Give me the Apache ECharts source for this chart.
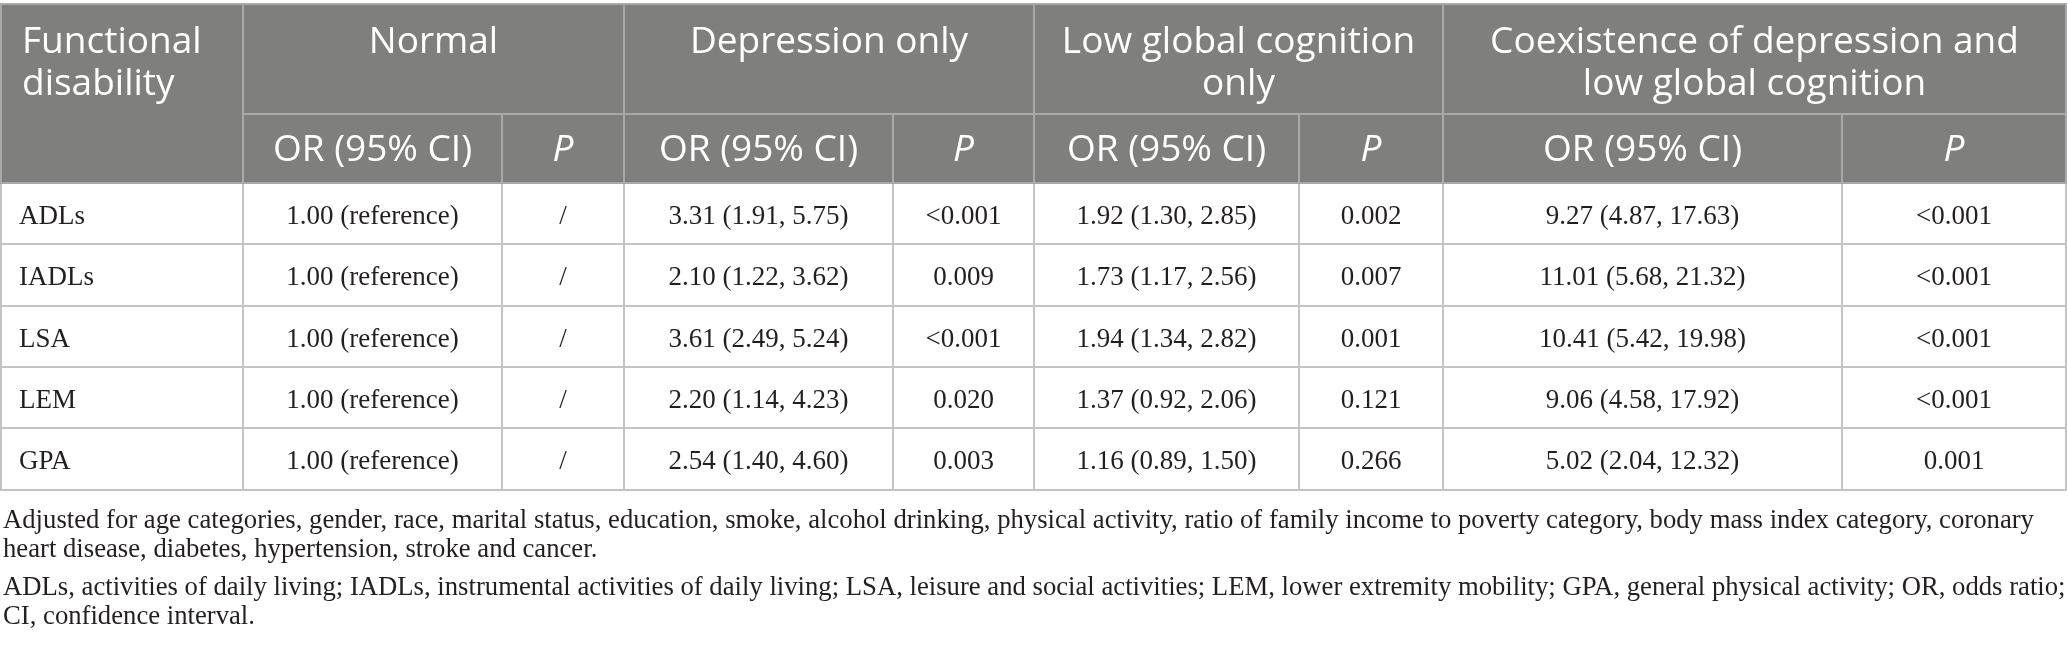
<!DOCTYPE html>
<html>
<head>
    <meta charset="utf-8" />
    <title>Functional disability by depression and cognition</title>
    <style>html, body { margin: 0; padding: 0; background: #fff; }</style>
</head>
<body>
    <div id="main" style="width:2068px;height:654px;"></div>
    <script src="https://cdn.jsdelivr.net/npm/echarts@6/dist/echarts.min.js"></script>
    <script type="text/javascript">
        // table content
        var firstHeader = 'Functional\ndisability';
        var groups = ['Normal', 'Depression only', 'Low global cognition\nonly', 'Coexistence of depression and\nlow global cognition'];
        var subHeaders = ['OR (95% CI)', 'P'];
        var rowLabels = ['ADLs', 'IADLs', 'LSA', 'LEM', 'GPA'];
        var normalOR = ['1.00 (reference)', '1.00 (reference)', '1.00 (reference)', '1.00 (reference)', '1.00 (reference)'];
        var normalP = ['/', '/', '/', '/', '/'];
        var depOR = ['3.31 (1.91, 5.75)', '2.10 (1.22, 3.62)', '3.61 (2.49, 5.24)', '2.20 (1.14, 4.23)', '2.54 (1.40, 4.60)'];
        var depP = ['<0.001', '0.009', '<0.001', '0.020', '0.003'];
        var lowOR = ['1.92 (1.30, 2.85)', '1.73 (1.17, 2.56)', '1.94 (1.34, 2.82)', '1.37 (0.92, 2.06)', '1.16 (0.89, 1.50)'];
        var lowP = ['0.002', '0.007', '0.001', '0.121', '0.266'];
        var bothOR = ['9.27 (4.87, 17.63)', '11.01 (5.68, 21.32)', '10.41 (5.42, 19.98)', '9.06 (4.58, 17.92)', '5.02 (2.04, 12.32)'];
        var bothP = ['<0.001', '<0.001', '<0.001', '<0.001', '0.001'];
        var footnoteAdjusted = [
            'Adjusted for age categories, gender, race, marital status, education, smoke, alcohol drinking, physical activity, ratio of family income to poverty category, body mass index category, coronary',
            'heart disease, diabetes, hypertension, stroke and cancer.'
        ];
        var footnoteAbbr = [
            'ADLs, activities of daily living; IADLs, instrumental activities of daily living; LSA, leisure and social activities; LEM, lower extremity mobility; GPA, general physical activity; OR, odds ratio;',
            'CI, confidence interval.'
        ];

        // layout (pixel units of the hidden axes)
        var colEdges = [1, 243, 502, 624, 893, 1034, 1299, 1443, 1842, 2066];
        var rowEdges = [4, 114, 183, 244, 306, 367, 428, 490];

        var headFont = '37px "Open Sans"';
        var bodyFont = '27px "Liberation Serif"';
        var noteFont = '26.7px "Liberation Serif"';

        // build the cell list
        var cells = [];
        cells.push({ c0: 0, c1: 1, r0: 0, r1: 2, text: firstHeader, kind: 'head1', align: 'left' });
        groups.forEach(function (g, i) {
            cells.push({ c0: 1 + i * 2, c1: 3 + i * 2, r0: 0, r1: 1, text: g, kind: 'head1', align: 'center' });
            cells.push({ c0: 1 + i * 2, c1: 2 + i * 2, r0: 1, r1: 2, text: subHeaders[0], kind: 'head2', align: 'center' });
            cells.push({ c0: 2 + i * 2, c1: 3 + i * 2, r0: 1, r1: 2, text: subHeaders[1], kind: 'head2', align: 'center', italic: true });
        });
        var bodyCols = [rowLabels, normalOR, normalP, depOR, depP, lowOR, lowP, bothOR, bothP];
        rowLabels.forEach(function (lab, r) {
            bodyCols.forEach(function (col, c) {
                cells.push({ c0: c, c1: c + 1, r0: r + 2, r1: r + 3, text: col[r], kind: 'body', align: c === 0 ? 'left' : 'center' });
            });
        });

        var chart = echarts.init(document.getElementById('main'));

        var option = {
            animation: false,
            grid: { left: 0, right: 0, top: 0, bottom: 0 },
            xAxis: { type: 'value', min: 0, max: 2068, show: false },
            yAxis: { type: 'value', min: 0, max: 654, inverse: true, show: false },
            graphic: [{
                type: 'text',
                left: 3,
                top: 506,
                style: { text: footnoteAdjusted.join('\n'), font: noteFont, lineHeight: 29, fill: '#231f20' }
            }, {
                type: 'text',
                left: 3,
                top: 573,
                style: { text: footnoteAbbr.join('\n'), font: noteFont, lineHeight: 29, fill: '#231f20' }
            }],
            series: [{
                type: 'custom',
                coordinateSystem: 'cartesian2d',
                data: cells.map(function (c) {
                    return [colEdges[c.c0], colEdges[c.c1], rowEdges[c.r0], rowEdges[c.r1]];
                }),
                renderItem: function (params, api) {
                    var cell = cells[params.dataIndex];
                    var p0 = api.coord([api.value(0), api.value(2)]);
                    var p1 = api.coord([api.value(1), api.value(3)]);
                    var isHead = cell.kind !== 'body';
                    var pad = isHead ? 21 : 18;
                    var tx = cell.align === 'left' ? p0[0] + pad : (p0[0] + p1[0]) / 2;
                    var ty, va;
                    if (cell.kind === 'head1') {
                        ty = p0[1] + 17;   // header lines hang from the top
                        va = 'top';
                    } else if (cell.kind === 'head2') {
                        ty = (p0[1] + p1[1]) / 2 + 2;
                        va = 'middle';
                    } else {
                        ty = (p0[1] + p1[1]) / 2 + 3;
                        va = 'middle';
                    }
                    return {
                        type: 'group',
                        children: [{
                            type: 'rect',
                            shape: { x: p0[0], y: p0[1], width: p1[0] - p0[0], height: p1[1] - p0[1] },
                            style: {
                                fill: isHead ? '#7f7f7e' : '#ffffff',
                                stroke: isHead ? '#a9a9a9' : '#c4c4c4',
                                lineWidth: 2
                            },
                            z2: isHead ? 2 : 1
                        }, {
                            type: 'text',
                            style: {
                                text: cell.text,
                                x: tx,
                                y: ty,
                                align: cell.align,
                                verticalAlign: va,
                                font: (cell.italic ? 'italic ' : '') + (isHead ? headFont : bodyFont),
                                lineHeight: isHead ? 42 : 30,
                                fill: isHead ? '#ffffff' : '#231f20'
                            },
                            z2: 5
                        }]
                    };
                }
            }]
        };

        chart.setOption(option);
    </script>
</body>
</html>
